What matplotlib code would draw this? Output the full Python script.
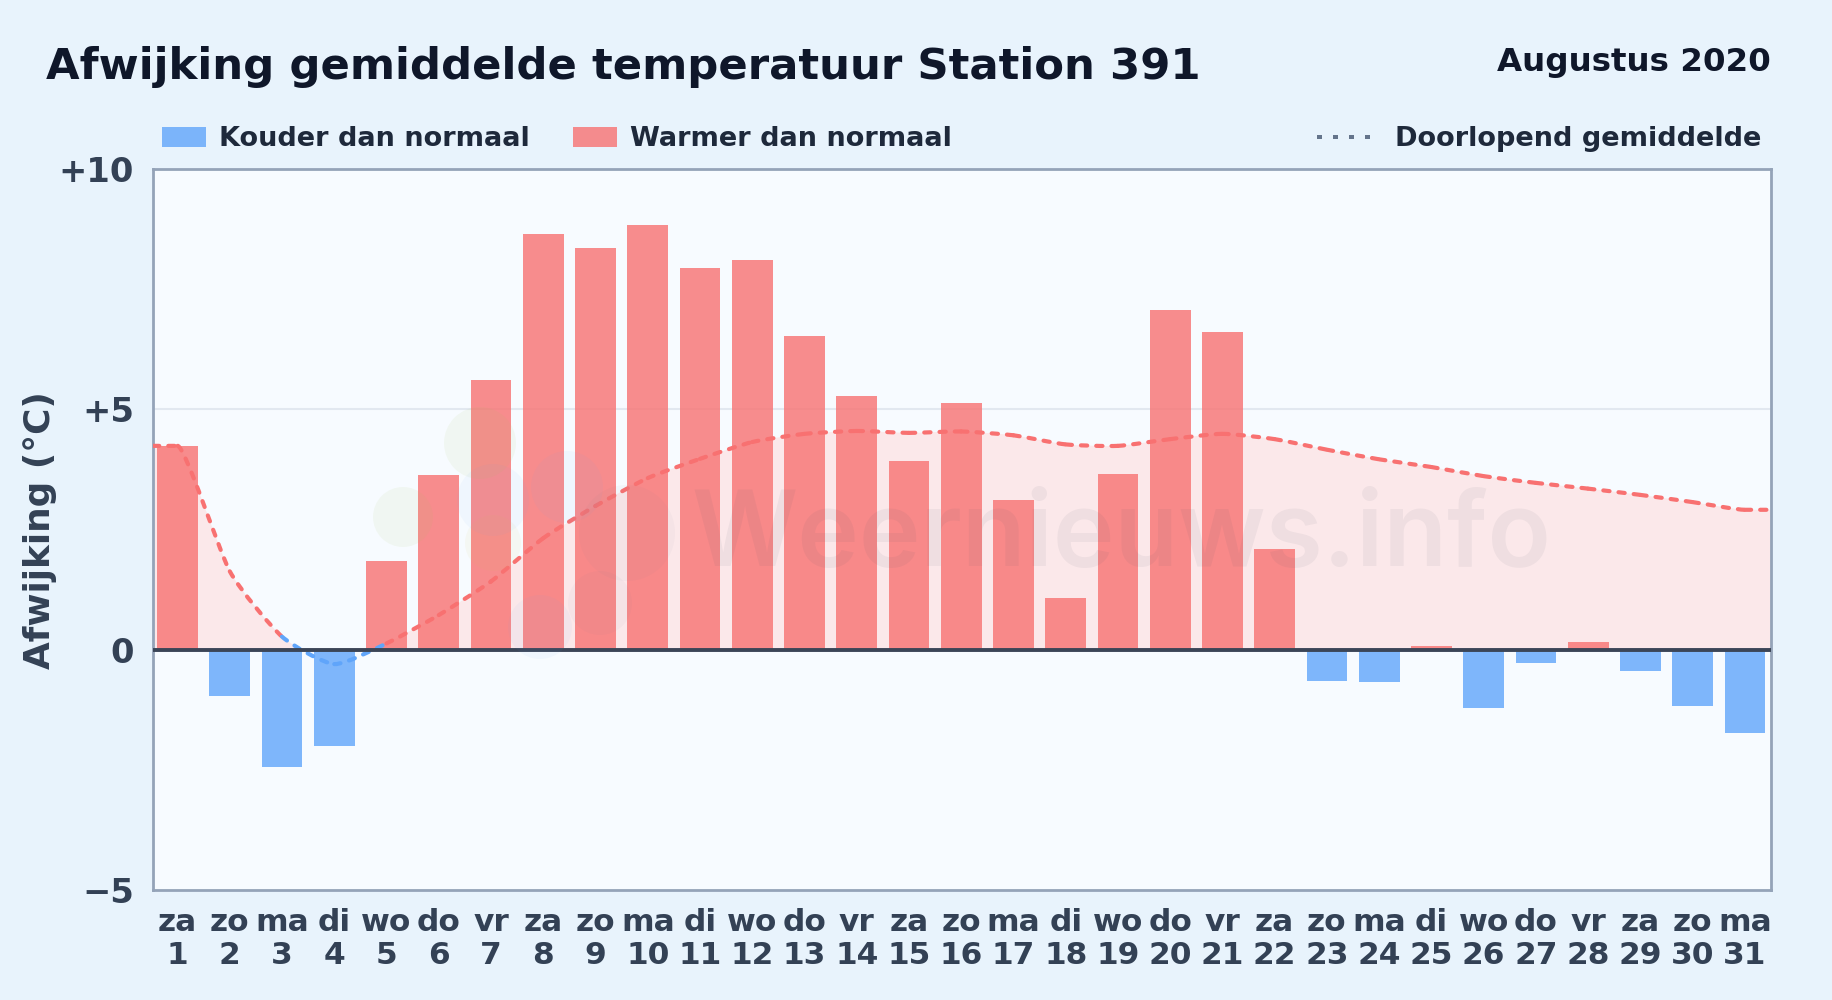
import matplotlib
matplotlib.use('Agg')
import matplotlib.pyplot as plt
from matplotlib.patches import Rectangle, Circle, PathPatch
from matplotlib.path import Path
from matplotlib.transforms import IdentityTransform

# waarden
days = list(range(1, 32))
weekdays = ['za', 'zo', 'ma', 'di', 'wo', 'do', 'vr', 'za', 'zo', 'ma', 'di', 'wo', 'do', 'vr', 'za', 'zo',
            'ma', 'di', 'wo', 'do', 'vr', 'za', 'zo', 'ma', 'di', 'wo', 'do', 'vr', 'za', 'zo', 'ma']
deviation = [4.24, -0.97, -2.45, -2.0, 1.85, 3.63, 5.62, 8.65, 8.36, 8.83, 7.93, 8.1, 6.52, 5.28, 3.92, 5.13,
             3.12, 1.07, 3.65, 7.07, 6.6, 2.09, -0.66, -0.68, 0.07, -1.22, -0.27, 0.16, -0.45, -1.18, -1.74]
running_mean = [4.24, 1.63, 0.27, -0.30, 0.13, 0.72, 1.42, 2.32, 2.99, 3.57, 3.97, 4.32, 4.49, 4.55, 4.51, 4.54,
                4.46, 4.27, 4.24, 4.38, 4.49, 4.38, 4.16, 3.96, 3.80, 3.61, 3.47, 3.35, 3.22, 3.07, 2.91]
y_ticks = [-5, 0, 5, 10]
y_tick_labels = ['\u22125', '0', '+5', '+10']

RED = '#f87171'
BLUE = '#60a5fa'
BG = '#e8f3fc'
W, H = 1832, 1000
X_LEFT, X_RIGHT = 0.53, 31.5

plt.rcParams['font.family'] = 'DejaVu Sans'
plt.rcParams['font.weight'] = 'bold'
plt.rcParams['lines.scale_dashes'] = False


def px(x, y):
    return x / W, 1 - y / H


def segments(xs, ys, tension=0.1):
    # bezier stukjes tussen de punten, vlak waar een kant vlak loopt
    out = []
    n = len(xs)

    def slope(i):
        if i == 0 or i == n - 1:
            return 0.0, 0.0
        if ys[i] == ys[i - 1] or ys[i] == ys[i + 1]:
            return xs[i + 1] - xs[i - 1], 0.0
        return xs[i + 1] - xs[i - 1], ys[i + 1] - ys[i - 1]

    for i in range(n - 1):
        dx1, dy1 = slope(i)
        dx2, dy2 = slope(i + 1)
        x1, y1 = xs[i], ys[i]
        x2, y2 = xs[i + 1], ys[i + 1]
        c1 = (x1 + dx1 * tension, y1 + dy1 * tension)
        c2 = (x2 - dx2 * tension, y2 - dy2 * tension)
        out.append(((x1, y1), c1, c2, (x2, y2)))
    return out


fig = plt.figure(figsize=(W / 100, H / 100), dpi=100, facecolor=BG)
ax = fig.add_axes([153 / W, 1 - 890 / H, (1771 - 153) / W, (890 - 169) / H])
ax.set_facecolor('#f7fbff')
ax.set_xlim(X_LEFT, X_RIGHT)
ax.set_ylim(-5, 10)

for side in ax.spines.values():
    side.set_color('#94a3b8')
    side.set_linewidth(2.0)

ax.axhline(5, color='#e2e8f0', lw=1.5, zorder=1)

xs = [X_LEFT] + days + [X_RIGHT]
ys = [running_mean[0]] + running_mean + [running_mean[-1]]
parts = segments(xs, ys)

# gevulde band onder het gemiddelde, alleen boven nul
verts = [(xs[0], 0), parts[0][0]]
codes = [Path.MOVETO, Path.LINETO]
for p in parts:
    verts += [p[1], p[2], p[3]]
    codes += [Path.CURVE4] * 3
verts += [(xs[-1], 0), (xs[0], 0)]
codes += [Path.LINETO, Path.CLOSEPOLY]
area = PathPatch(Path(verts, codes), facecolor='#fbe8ea', edgecolor='none', zorder=1.5)
ax.add_patch(area)
area.set_clip_path(Rectangle((X_LEFT, 0), X_RIGHT - X_LEFT, 10, transform=ax.transData))

bar_colors = [RED if v >= 0 else BLUE for v in deviation]
ax.bar(days, deviation, width=0.78, color=bar_colors, alpha=0.8, zorder=2)

for i, p in enumerate(parts):
    low = ys[i] < 0 or ys[i + 1] < 0
    seg = PathPatch(Path(list(p), [Path.MOVETO, Path.CURVE4, Path.CURVE4, Path.CURVE4]),
                    fill=False, edgecolor=BLUE if low else RED, lw=3.0, capstyle='round',
                    linestyle=(0, (4.5, 6.5)), zorder=3)
    ax.add_patch(seg)

ax.axhline(0, color='#3b4557', lw=2.8, zorder=4)

ax.set_yticks(y_ticks)
ax.set_yticklabels(y_tick_labels, fontsize=24.3, color='#334155')
ax.set_xticks(days)
ax.set_xticklabels([w + '\n' + str(d) for w, d in zip(weekdays, days)], fontsize=22.5, color='#334155', linespacing=1.17)
ax.tick_params(axis='both', length=0)
ax.tick_params(axis='y', pad=13.5)
ax.tick_params(axis='x', pad=13)
fig.text(*px(40, 530), 'Afwijking (\u00b0C)', rotation=90, fontsize=25.8, color='#334155', ha='center', va='center')

# watermerk
ax.text(960 * W / 1568, H - 539, 'Weernieuws.info', transform=IdentityTransform(), fontsize=75, family='Inter',
        fontweight='semibold', color='#475569', alpha=0.065, ha='center', va='center', zorder=5)
logo = [(403, 517, 30, '#a3c65a', 0.08), (480, 443, 36, '#a3c65a', 0.08), (493, 543, 28, '#d8c45a', 0.07),
        (493, 500, 36, '#60a5fa', 0.05), (567, 487, 36, '#60a5fa', 0.05), (627, 533, 48, '#64748b', 0.04),
        (600, 603, 32, '#64748b', 0.04), (540, 627, 32, '#60a5fa', 0.05)]
for cx, cy, r, c, a in logo:
    fig.add_artist(Circle((cx, H - cy), r, transform=IdentityTransform(), facecolor=c, alpha=a, edgecolor='none', zorder=5))

fig.text(*px(46, 67), 'Afwijking gemiddelde temperatuur Station 391', fontsize=31.2, color='#0f172a', ha='left', va='center')
fig.text(*px(1771, 62), 'Augustus 2020', fontsize=23.4, color='#0f172a', ha='right', va='center')

# legenda
for x0, c, label in [(162, BLUE, 'Kouder dan normaal'), (573, RED, 'Warmer dan normaal')]:
    fig.add_artist(Rectangle(px(x0, 147), 44 / W, 20 / H, transform=fig.transFigure, facecolor=c, alpha=0.8, edgecolor='none'))
    fig.text(*px(x0 + 57, 139), label, fontsize=19.5, color='#1e293b', ha='left', va='center')
for dx in [1317, 1333, 1349, 1365]:
    fig.add_artist(Rectangle(px(dx, 139), 5 / W, 4 / H, transform=fig.transFigure, facecolor='#64748b', edgecolor='none'))
fig.text(*px(1395, 139), 'Doorlopend gemiddelde', fontsize=19.5, color='#1e293b', ha='left', va='center')

fig.savefig('out.png', dpi=100, facecolor=BG)
